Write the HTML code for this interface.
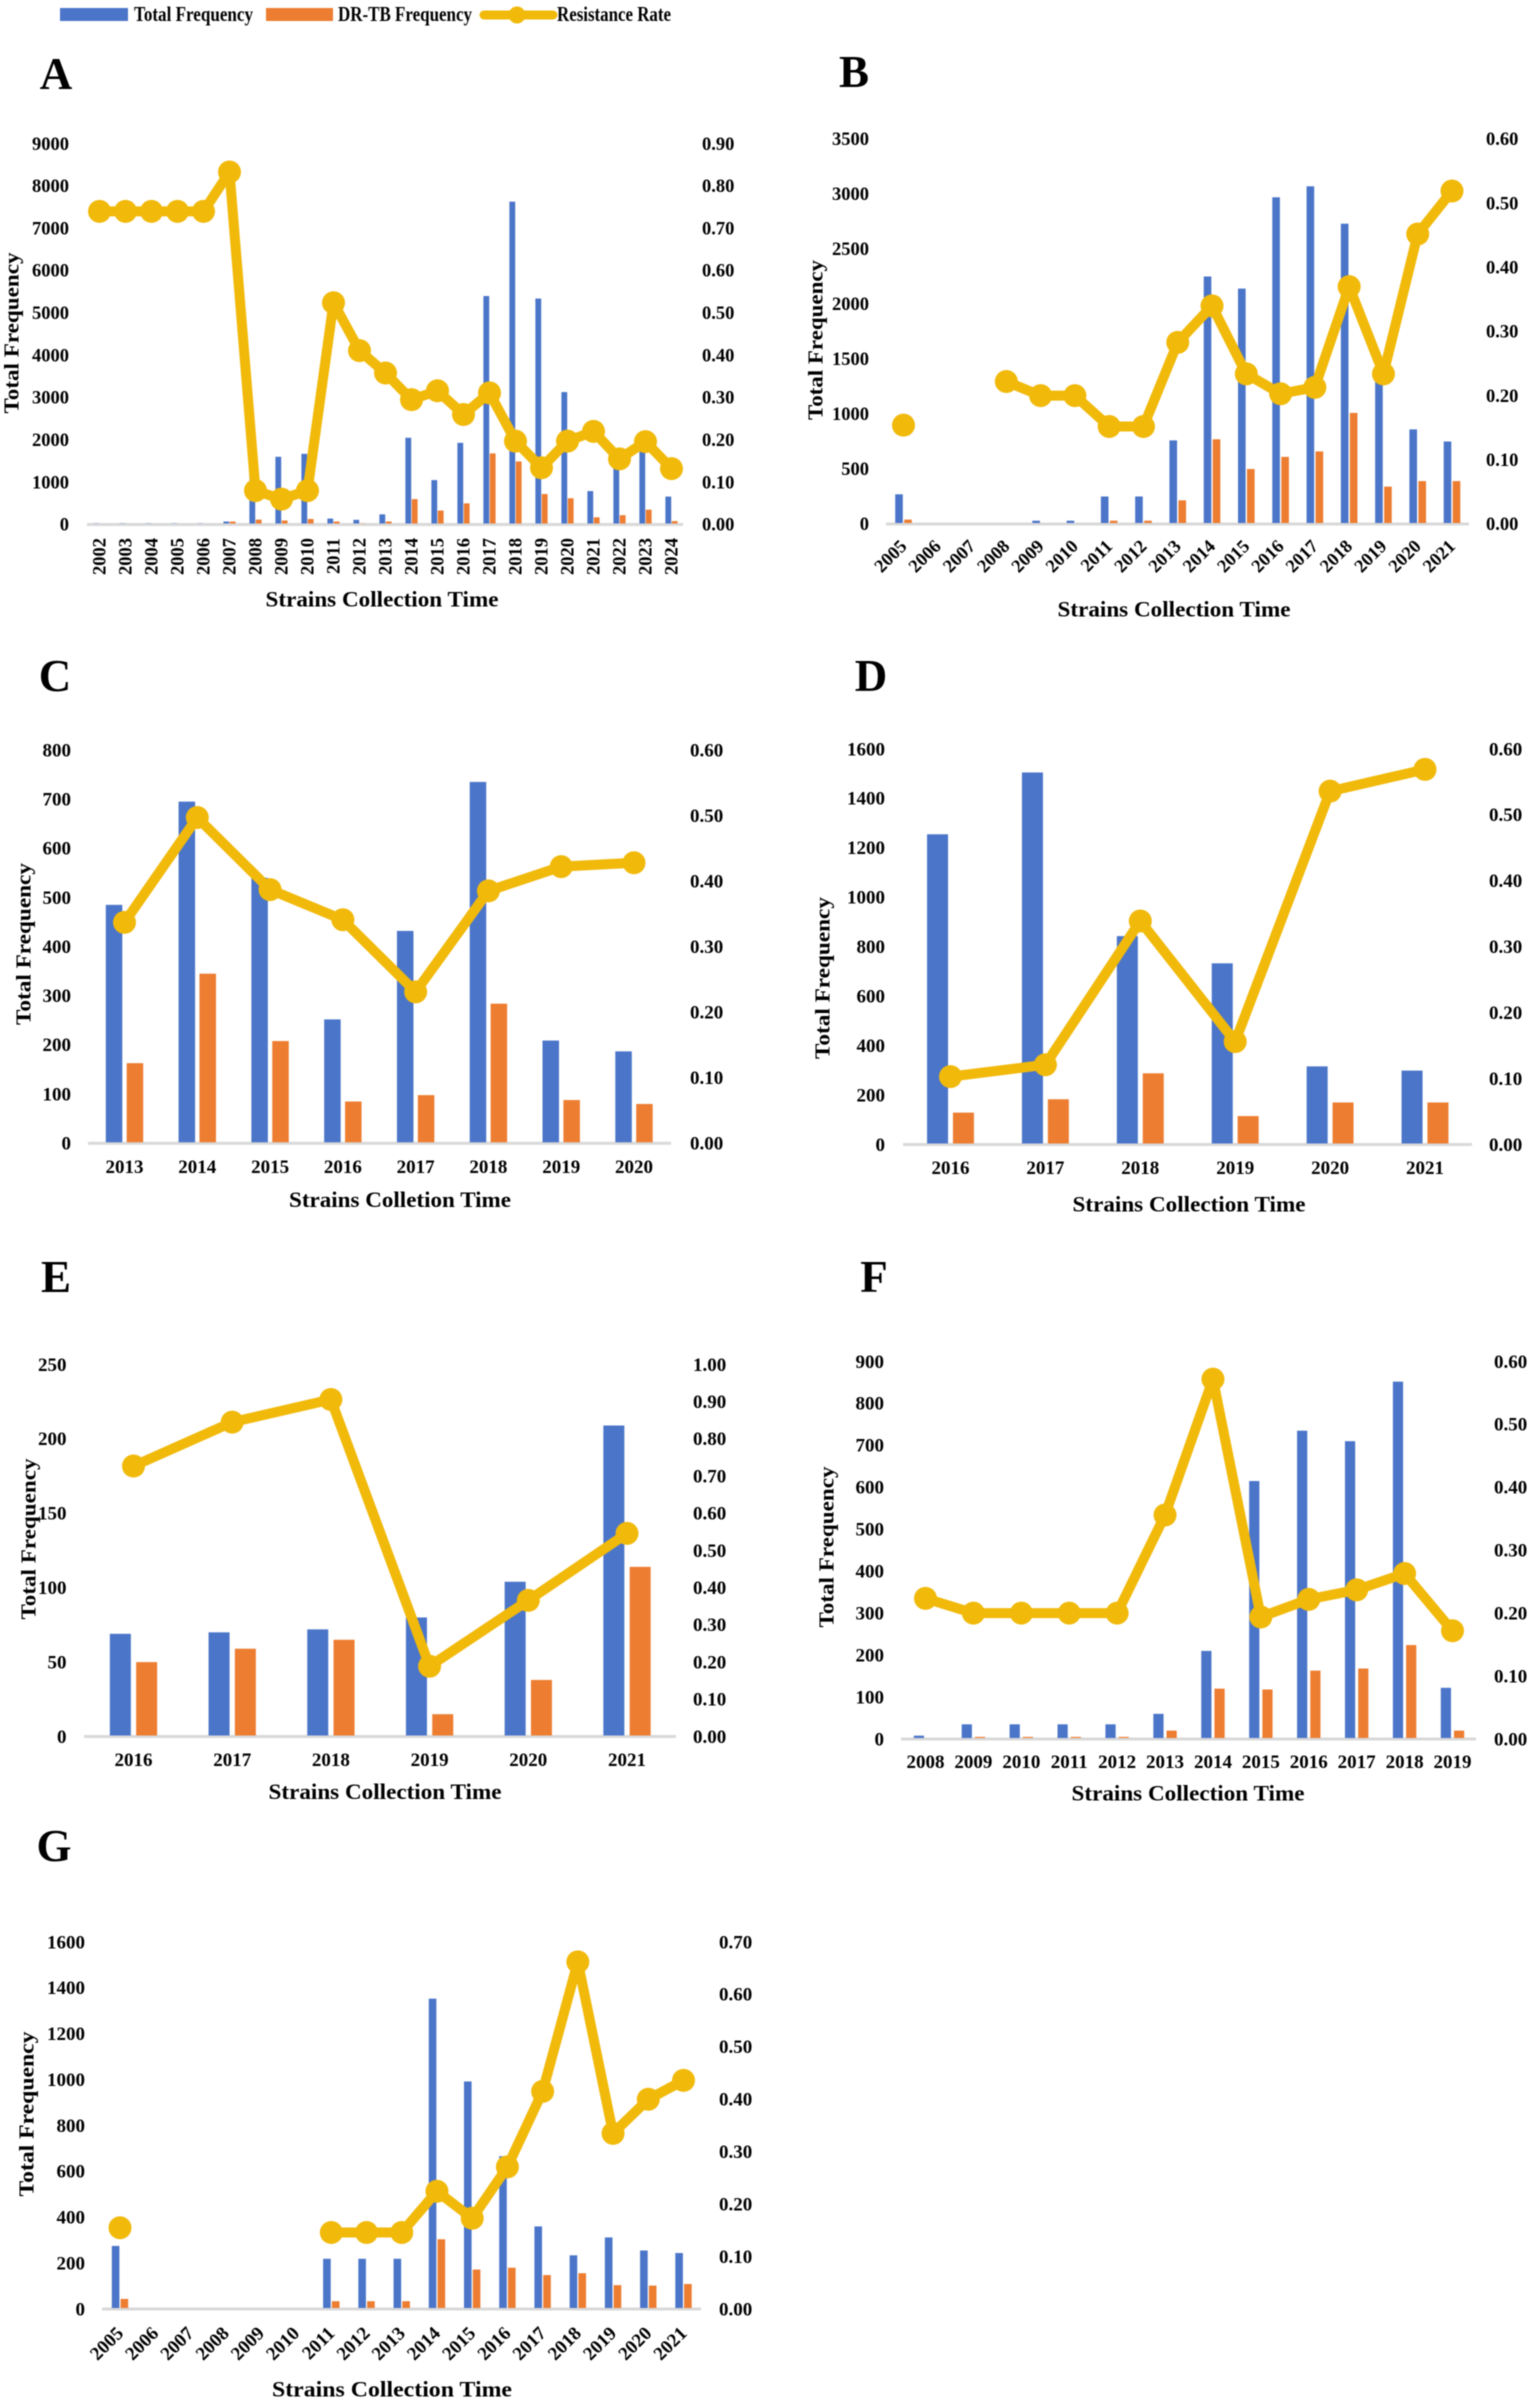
<!DOCTYPE html>
<html lang="en">
<head>
<meta charset="utf-8">
<title>Total frequency, DR-TB frequency and resistance rate by strain collection year</title>
<style>
html,body{margin:0;padding:0;background:#fff;}
#figure{display:block;width:1529px;height:2404px;filter:blur(0.4px);}
text{font-family:"Liberation Serif",serif;font-weight:bold;fill:#000;}
</style>
</head>
<body>
<svg id="figure" xmlns="http://www.w3.org/2000/svg" width="1529" height="2404" viewBox="0 0 1529 2404">
  <rect x="0" y="0" width="1529" height="2404" fill="#fff"/>
  <g>
    <g>
      <rect x="60" y="8" width="68" height="13" fill="#4A75C9"/>
      <text x="134" y="21" font-size="21" textLength="119" lengthAdjust="spacingAndGlyphs">Total Frequency</text>
    </g>
    <g>
      <rect x="266" y="8" width="67" height="13" fill="#ED7D31"/>
      <text x="338" y="21" font-size="21" textLength="134" lengthAdjust="spacingAndGlyphs">DR-TB Frequency</text>
    </g>
    <g>
      <line x1="484" y1="15" x2="553" y2="15" stroke="#F1B90A" stroke-width="9" stroke-linecap="round"/>
      <circle cx="517" cy="15" r="8.5" fill="#F1B90A"/>
      <text x="557" y="21" font-size="21" textLength="114" lengthAdjust="spacingAndGlyphs">Resistance Rate</text>
    </g>
  </g>
</svg>
<script>
// Panel A
const yearsA = [2002,2003,2004,2005,2006,2007,2008,2009,2010,2011,2012,2013,2014,2015,2016,2017,2018,2019,2020,2021,2022,2023,2024];
const totalA = [30,30,30,30,30,70,1400,1600,1670,140,110,240,2050,1050,1930,5400,7630,5340,3130,790,1420,1800,660];
const drA = [5,5,5,5,5,70,115,95,130,70,30,70,600,330,500,1680,1490,720,620,170,220,350,80];
const rateA = [0.74,0.74,0.74,0.74,0.74,0.833,0.08,0.06,0.08,0.524,0.411,0.358,0.295,0.316,0.26,0.311,0.197,0.134,0.197,0.22,0.155,0.196,0.132];
const leftTicksA = [0,1000,2000,3000,4000,5000,6000,7000,8000,9000];
const rightTicksA = ['0.00','0.10','0.20','0.30','0.40','0.50','0.60','0.70','0.80','0.90'];
// Panel B
const yearsB = [2005,2006,2007,2008,2009,2010,2011,2012,2013,2014,2015,2016,2017,2018,2019,2020,2021];
const totalB = [270,0,0,0,30,30,250,250,760,2250,2140,2970,3070,2730,1450,860,750];
const drB = [40,0,0,0,0,0,30,30,215,770,500,610,660,1010,340,390,390];
const rateB = [0.154,null,null,0.222,0.2,0.2,0.152,0.152,0.283,0.34,0.234,0.203,0.213,0.37,0.234,0.452,0.519];
const leftTicksB = [0,500,1000,1500,2000,2500,3000,3500];
const rightTicksB = ['0.00','0.10','0.20','0.30','0.40','0.50','0.60'];
// Panel C
const yearsC = [2013,2014,2015,2016,2017,2018,2019,2020];
const totalC = [485,695,540,252,432,735,209,187];
const drC = [163,345,208,85,98,284,88,80];
const rateC = [0.337,0.497,0.387,0.341,0.231,0.385,0.422,0.428];
const leftTicksC = [0,100,200,300,400,500,600,700,800];
const rightTicksC = ['0.00','0.10','0.20','0.30','0.40','0.50','0.60'];
// Panel D
const yearsD = [2016,2017,2018,2019,2020,2021];
const totalD = [1255,1505,843,733,316,299];
const drD = [129,183,288,115,170,170];
const rateD = [0.103,0.121,0.339,0.156,0.536,0.569];
const leftTicksD = [0,200,400,600,800,1000,1200,1400,1600];
const rightTicksD = ['0.00','0.10','0.20','0.30','0.40','0.50','0.60'];
// Panel E
const yearsE = [2016,2017,2018,2019,2020,2021];
const totalE = [69,70,72,80,104,209];
const drE = [50,59,65,15,38,114];
const rateE = [0.727,0.845,0.906,0.189,0.366,0.546];
const leftTicksE = [0,50,100,150,200,250];
const rightTicksE = ['0.00','0.10','0.20','0.30','0.40','0.50','0.60','0.70','0.80','0.90','1.00'];
// Panel F
const yearsF = [2008,2009,2010,2011,2012,2013,2014,2015,2016,2017,2018,2019];
const totalF = [8,35,35,35,35,60,210,615,735,710,852,122];
const drF = [0,5,5,5,5,20,120,118,163,168,224,20];
const rateF = [0.2235,0.2,0.2,0.2,0.2,0.356,0.572,0.194,0.222,0.237,0.263,0.172];
const leftTicksF = [0,100,200,300,400,500,600,700,800,900];
const rightTicksF = ['0.00','0.10','0.20','0.30','0.40','0.50','0.60'];
// Panel G
const yearsG = [2005,2006,2007,2008,2009,2010,2011,2012,2013,2014,2015,2016,2017,2018,2019,2020,2021];
const totalG = [275,0,0,0,0,0,219,219,219,1353,992,666,360,234,312,255,244];
const drG = [44,0,0,0,0,0,34,34,34,304,172,180,148,156,104,102,109];
const rateG = [0.155,null,null,null,null,null,0.146,0.146,0.146,0.2246,0.173,0.271,0.415,0.662,0.335,0.4,0.436];
const leftTicksG = [0,200,400,600,800,1000,1200,1400,1600];
const rightTicksG = ['0.00','0.10','0.20','0.30','0.40','0.50','0.60','0.70'];

const SVG_NS = 'http://www.w3.org/2000/svg';
const BLUE = '#4A75C9';
const ORANGE = '#ED7D31';
const GOLD = '#F1B90A';
const AXIS_GREY = '#D9D9D9';

const panels = [
  {id:'a',letter:'A',letterX:56,letterY:89,years:yearsA,total:totalA,dr:drA,rate:rateA,leftTicks:leftTicksA,rightTicks:rightTicksA,
   baseY:524.5,topY:143.7,firstX:99.5,lastX:671.5,axisL:87,axisR:683,leftEdge:69,rightEdge:702,barW:5.8,barGap:0.6,labelMode:'vertical',labelY:538,
   yTitleX:12,yTitleY:333,yTitleLen:161,xTitle:'Strains Collection Time',xTitleX:382,xTitleY:599,xTitleLen:233,tickSize:18.5},
  {id:'b',letter:'B',letterX:854,letterY:87,years:yearsB,total:totalB,dr:drB,rate:rateB,leftTicks:leftTicksB,rightTicks:rightTicksB,
   baseY:524,topY:139,firstX:903.5,lastX:1452,axisL:886,axisR:1469,leftEdge:869,rightEdge:1486,barW:7.6,barGap:1.4,labelMode:'slanted',labelY:543,
   yTitleX:816,yTitleY:340,yTitleLen:160,xTitle:'Strains Collection Time',xTitleX:1174,xTitleY:609,xTitleLen:233,tickSize:18.5},
  {id:'c',letter:'C',letterX:55,letterY:691,years:yearsC,total:totalC,dr:drC,rate:rateC,leftTicks:leftTicksC,rightTicks:rightTicksC,
   baseY:1143.3,topY:750,firstX:124.5,lastX:634,axisL:88,axisR:671,leftEdge:71,rightEdge:690,barW:16.5,barGap:4.4,labelMode:'horizontal',labelY:1166.5,
   yTitleX:24,yTitleY:944,yTitleLen:162,xTitle:'Strains Colletion Time',xTitleX:400,xTitleY:1199.5,xTitleLen:222,tickSize:19},
  {id:'d',letter:'D',letterX:871,letterY:691,years:yearsD,total:totalD,dr:drD,rate:rateD,leftTicks:leftTicksD,rightTicks:rightTicksD,
   baseY:1144.5,topY:749,firstX:950.5,lastX:1425,axisL:903,axisR:1472,leftEdge:885,rightEdge:1489,barW:21,barGap:4.9,labelMode:'horizontal',labelY:1167.5,
   yTitleX:823,yTitleY:978,yTitleLen:162,xTitle:'Strains Collection Time',xTitleX:1189,xTitleY:1204,xTitleLen:233,tickSize:19},
  {id:'e',letter:'E',letterX:56,letterY:1292,years:yearsE,total:totalE,dr:drE,rate:rateE,leftTicks:leftTicksE,rightTicks:rightTicksE,
   baseY:1736.5,topY:1364.5,firstX:133.5,lastX:627,axisL:84,axisR:676,leftEdge:66.5,rightEdge:693,barW:21,barGap:5.3,labelMode:'horizontal',labelY:1759.5,
   yTitleX:29,yTitleY:1539,yTitleLen:161,xTitle:'Strains Collection Time',xTitleX:385,xTitleY:1791.5,xTitleLen:233,tickSize:19},
  {id:'f',letter:'F',letterX:874,letterY:1292,years:yearsF,total:totalF,dr:drF,rate:rateF,leftTicks:leftTicksF,rightTicks:rightTicksF,
   baseY:1739,topY:1361.5,firstX:925.5,lastX:1452.5,axisL:901,axisR:1476,leftEdge:884,rightEdge:1494,barW:10.2,barGap:3,labelMode:'horizontal',labelY:1761.5,
   yTitleX:827,yTitleY:1547,yTitleLen:161,xTitle:'Strains Collection Time',xTitleX:1188,xTitleY:1793,xTitleLen:233,tickSize:19},
  {id:'g',letter:'G',letterX:54,letterY:1861,years:yearsG,total:totalG,dr:drG,rate:rateG,leftTicks:leftTicksG,rightTicks:rightTicksG,
   baseY:2309,topY:1942,firstX:120,lastX:683.5,axisL:102,axisR:701,leftEdge:85,rightEdge:719,barW:7.6,barGap:1.2,labelMode:'slanted',labelY:2330,
   yTitleX:27,yTitleY:2114,yTitleLen:165,xTitle:'Strains Collection Time',xTitleX:392,xTitleY:2389,xTitleLen:240,tickSize:19}
];

const figure = document.getElementById('figure');

function make(tag, parent, attrs) {
  const node = document.createElementNS(SVG_NS, tag);
  for (const key in attrs) node.setAttribute(key, attrs[key]);
  parent.appendChild(node);
  return node;
}

function lastOf(list) {
  return list[list.length - 1];
}

function drawPanel(p) {
  const count = p.years.length;
  const xScale = i => count > 1 ? p.firstX + (p.lastX - p.firstX) * i / (count - 1) : p.firstX;
  const leftMax = lastOf(p.leftTicks);
  const rightMax = parseFloat(lastOf(p.rightTicks));
  const yLeft = v => p.baseY - (p.baseY - p.topY) * v / leftMax;
  const yRight = v => p.baseY - (p.baseY - p.topY) * v / rightMax;

  const group = make('g', figure, {});
  
  

  const letter = make('text', group, {x: p.letterX, y: p.letterY, 'font-size': 45, 'text-anchor': 'middle'});
  letter.textContent = p.letter;
  
  

  p.leftTicks.forEach(tick => {
    const label = make('text', group, {x: p.leftEdge, y: yLeft(tick), dy: '0.33em', 'font-size': p.tickSize, 'text-anchor': 'end'});
    label.textContent = tick;
    
    
  });

  p.rightTicks.forEach(tick => {
    const label = make('text', group, {x: p.rightEdge, y: yRight(parseFloat(tick)), dy: '0.33em', 'font-size': p.tickSize});
    label.textContent = tick;
    
    
  });

  const axis = make('line', group, {x1: p.axisL, x2: p.axisR, y1: p.baseY, y2: p.baseY, stroke: AXIS_GREY, 'stroke-width': 3});
  
  

  p.years.forEach((year, i) => {
    const cx = xScale(i);
    const totalTop = yLeft(p.total[i]);
    const blue = make('rect', group, {x: cx - p.barGap / 2 - p.barW, y: totalTop, width: p.barW, height: Math.max(0, p.baseY - 1 - totalTop), fill: BLUE});
    
    

    const drTop = yLeft(p.dr[i]);
    const orange = make('rect', group, {x: cx + p.barGap / 2, y: drTop, width: p.barW, height: Math.max(0, p.baseY - 1 - drTop), fill: ORANGE});
    
    

    const attrs = {'font-size': p.tickSize};
    if (p.labelMode === 'vertical') {
      attrs.x = cx;
      attrs.y = p.labelY;
      attrs.dy = '0.33em';
      attrs['text-anchor'] = 'end';
      attrs.transform = 'rotate(-90 ' + cx + ' ' + p.labelY + ')';
    } else if (p.labelMode === 'slanted') {
      attrs.x = cx;
      attrs.y = p.labelY;
      attrs.dy = '0.33em';
      attrs['text-anchor'] = 'end';
      attrs.transform = 'rotate(-45 ' + cx + ' ' + p.labelY + ')';
    } else {
      attrs.x = cx;
      attrs.y = p.labelY;
      attrs.dy = '0.33em';
      attrs['text-anchor'] = 'middle';
    }
    const yearLabel = make('text', group, attrs);
    yearLabel.textContent = year;
    
    
  });

  let d = '';
  let penDown = false;
  p.rate.forEach((value, i) => {
    if (value === null) {
      penDown = false;
      return;
    }
    d += (penDown ? 'L' : 'M') + xScale(i).toFixed(2) + ' ' + yRight(value).toFixed(2);
    penDown = true;
  });
  const line = make('path', group, {d: d, fill: 'none', stroke: GOLD, 'stroke-width': 10, 'stroke-linejoin': 'round'});
  
  

  p.rate.forEach((value, i) => {
    if (value === null) return;
    const dot = make('circle', group, {cx: xScale(i), cy: yRight(value), r: 11.5, fill: GOLD});
    
    
  });

  const yTitle = make('text', group, {x: p.yTitleX, y: p.yTitleY, dy: '0.3em', 'font-size': 21, 'text-anchor': 'middle', textLength: p.yTitleLen, lengthAdjust: 'spacingAndGlyphs', transform: 'rotate(-90 ' + p.yTitleX + ' ' + p.yTitleY + ')'});
  yTitle.textContent = 'Total Frequency';
  
  

  const xTitle = make('text', group, {x: p.xTitleX, y: p.xTitleY, dy: '0.33em', 'font-size': 22, 'text-anchor': 'middle', textLength: p.xTitleLen, lengthAdjust: 'spacingAndGlyphs'});
  xTitle.textContent = p.xTitle;
  
  
}

panels.forEach(drawPanel);
</script>
</body>
</html>
